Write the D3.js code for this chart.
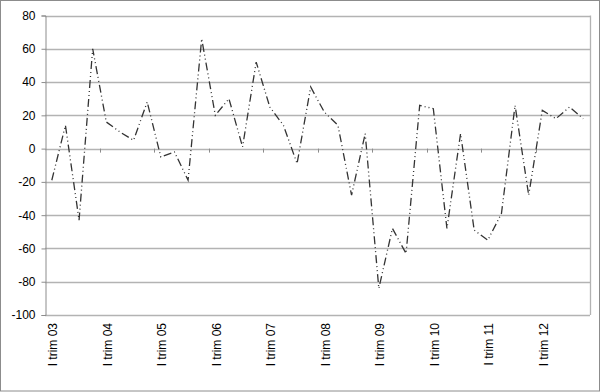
<!DOCTYPE html>
<html>
<head>
<meta charset="utf-8">
<script src="https://cdn.jsdelivr.net/npm/d3@7"></script>
<style>
  body { margin: 0; background: #fff; }
  svg { display: block; font-family: "Liberation Sans", Arial, sans-serif; }
</style>
</head>
<body>
<div id="chart"></div>
<script>
// Quarterly values, I trim 03 .. IV trim 12
var years = ["03", "04", "05", "06", "07", "08", "09", "10", "11", "12"];
var quarters = ["I", "II", "III", "IV"];
var values = [
  -19, 14, -43, 60,
  16, 10, 5, 28,
  -5, -2, -19, 66,
  20, 30, 1, 52,
  25, 14, -9, 37,
  22, 14, -28, 9,
  -84, -48, -63, 26,
  24, -48, 9, -49,
  -55, -39, 26, -28,
  23, 18, 25, 18
];
var yTicks = [-100, -80, -60, -40, -20, 0, 20, 40, 60, 80];

var categories = [];
years.forEach(function(y) {
  quarters.forEach(function(q) { categories.push(q + " trim " + y); });
});

var width = 600, height = 392;
var margin = { left: 45, right: 10, top: 15.5, bottom: 77 };

var svg = d3.select("#chart")
  .append("svg")
  .attr("width", width)
  .attr("height", height);

// outer frame
svg.append("rect")
  .attr("x", 0.5).attr("y", 0.5)
  .attr("width", width - 1).attr("height", height - 1.5)
  .attr("fill", "#fff")
  .attr("stroke", "#8c8c8c");

var x = d3.scaleBand()
  .domain(categories)
  .range([margin.left, width - margin.right]);

var y = d3.scaleLinear()
  .domain([-100, 80])
  .range([height - margin.bottom, margin.top]);

// gridlines
svg.append("g")
  .selectAll("line")
  .data(yTicks)
  .enter()
  .append("line")
  .attr("x1", margin.left)
  .attr("x2", width - margin.right)
  .attr("y1", function(d) { return Math.round(y(d)) + 0.5; })
  .attr("y2", function(d) { return Math.round(y(d)) + 0.5; })
  .attr("stroke", "#b3b3b3")
  .attr("stroke-width", 1.3);

// right plot border
svg.append("line")
  .attr("x1", width - margin.right + 0.5).attr("x2", width - margin.right + 0.5)
  .attr("y1", y(80)).attr("y2", y(-100))
  .attr("stroke", "#b3b3b3")
  .attr("stroke-width", 1.3);

// y axis
var yAxis = svg.append("g")
  .attr("transform", "translate(" + (margin.left + 0.5) + ",0)")
  .call(d3.axisLeft(y).tickValues(yTicks).tickSize(4).tickPadding(6)
    .tickFormat(function(d) { return String(d); }));
yAxis.selectAll("path, line").attr("stroke", "#8c8c8c");
yAxis.selectAll("text")
  .attr("fill", "#000")
  .style("font-size", "12px")
  .style("font-family", "Liberation Sans, Arial, sans-serif");

// x axis ticks on the zero line, every 4 quarters
var tickCats = categories.filter(function(d, i) { return i % 4 === 0 && i > 0; });
svg.append("g")
  .selectAll("line")
  .data(tickCats)
  .enter()
  .append("line")
  .attr("x1", function(d) { return Math.round(x(d)) + 0.5; })
  .attr("x2", function(d) { return Math.round(x(d)) + 0.5; })
  .attr("y1", y(0))
  .attr("y2", y(0) + 4)
  .attr("stroke", "#8c8c8c");

// x labels (rotated) at the bottom
var labelCats = categories.filter(function(d, i) { return i % 4 === 0; });
svg.append("g")
  .selectAll("text")
  .data(labelCats)
  .enter()
  .append("text")
  .attr("transform", function(d) {
    return "translate(" + (x(d) + x.bandwidth() / 2 + 1) + "," + (y(-100) + 8) + ") rotate(-90)";
  })
  .attr("text-anchor", "end")
  .attr("dy", "0.35em")
  .style("font-size", "12px")
  .text(function(d) { return d; });

// data line
var line = d3.line()
  .x(function(d, i) { return x(categories[i]) + x.bandwidth() / 2; })
  .y(function(d) { return y(d); });

svg.append("path")
  .datum(values)
  .attr("d", line)
  .attr("fill", "none")
  .attr("stroke", "#333")
  .attr("stroke-width", 1.3)
  .attr("stroke-dasharray", "8,3,1,3,1,3");
</script>
</body>
</html>
